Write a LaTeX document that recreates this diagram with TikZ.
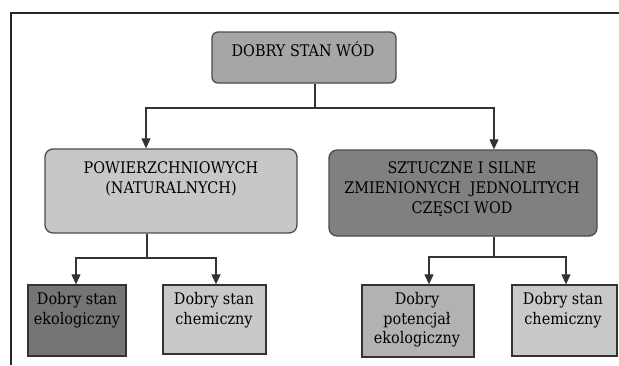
\documentclass[tikz,border=0pt]{standalone}
\usepackage{fontspec}
\setmainfont{DejaVu Serif Condensed}
\newfontfamily\diagserif{DejaVu Serif Condensed}
\usetikzlibrary{arrows.meta}
\begin{document}
\begin{tikzpicture}[x=1pt,y=-1pt,
  frameline/.style={line width=1.5pt, draw=black!85},
  rbox/.style={draw=black!70, line width=1.3pt, rounded corners=8pt, inner sep=0pt},
  sbox/.style={draw=black!80, line width=1.3pt, inner sep=0pt},
  txt/.style={anchor=north, align=center, inner sep=0pt, font=\diagserif\fontsize{16}{20}\selectfont},
  stxt/.style={anchor=north, align=center, inner sep=0pt, font=\diagserif\fontsize{16}{19.5}\selectfont},
  conn/.style={draw=black!80, line width=1.1pt},
  arr/.style={conn, -{Triangle[length=10pt,width=9pt]}},
]
\useasboundingbox (0,0) rectangle (619,365);
\fill[white] (0,0) rectangle (619,365);

% frame
\coordinate (fA) at (11,365);
\coordinate (fB) at (11,13);
\coordinate (fC) at (619,13);
\draw[frameline] (fA) -- (fB) -- (fC);

% boxes
\node[rbox, rounded corners=6pt, fill=black!35, minimum width=184pt, minimum height=51pt] (top) at (304,57.5) {};
\node[rbox, fill=black!22, minimum width=252pt, minimum height=84pt] (L) at (171,191) {};
\node[rbox, fill=black!50, minimum width=268pt, minimum height=86pt] (R) at (463,193) {};
\node[sbox, fill=black!54, minimum width=98pt, minimum height=71pt] (L1) at (77,320.5) {};
\node[sbox, fill=black!21, minimum width=103pt, minimum height=69pt] (L2) at (214.5,319.5) {};
\node[sbox, fill=black!30, minimum width=112pt, minimum height=72pt] (R1) at (418,321) {};
\node[sbox, fill=black!21, minimum width=105pt, minimum height=71pt] (R2) at (564.5,320.5) {};

% texts
\node[txt] (topt) at (303,41) {DOBRY STAN WÓD};
\node[txt] (Lt) at (171,161) {POWIERZCHNIOWYCH\\(NATURALNYCH)};
\node[txt] (Rt) at (462,161) {SZTUCZNE I SILNE\\ZMIENIONYCH\ \ JEDNOLITYCH\\CZĘSCI WOD};
\node[stxt] (L1t) at (77,292.5) {Dobry stan\\ekologiczny};
\node[stxt] (L2t) at (214,292.5) {Dobry stan\\chemiczny};
\node[stxt] (R1t) at (417,292.5) {Dobry\\potencjał\\ekologiczny};
\node[stxt] (R2t) at (563,292.5) {Dobry stan\\chemiczny};

% junctions
\coordinate (j1) at (315,108);
\coordinate (jL) at (146,108);
\coordinate (jR) at (494,108);
\coordinate (j2) at (147,258);
\coordinate (j2a) at (76,258);
\coordinate (j2b) at (216,258);
\coordinate (j3) at (494,257);
\coordinate (j3a) at (429,257);
\coordinate (j3b) at (566,257);

% connectors
\draw[conn] (top.south -| j1) -- (j1);
\draw[arr] (j1) -- (jL) -- (jL |- L.north);
\draw[arr] (j1) -- (jR) -- (jR |- R.north);

\draw[conn] (L.south -| j2) -- (j2);
\draw[arr] (j2) -- (j2a) -- (j2a |- L1.north);
\draw[arr] (j2) -- (j2b) -- (j2b |- L2.north);

\draw[conn] (R.south -| j3) -- (j3);
\draw[arr] (j3) -- (j3a) -- (j3a |- R1.north);
\draw[arr] (j3) -- (j3b) -- (j3b |- R2.north);
\end{tikzpicture}
\end{document}
